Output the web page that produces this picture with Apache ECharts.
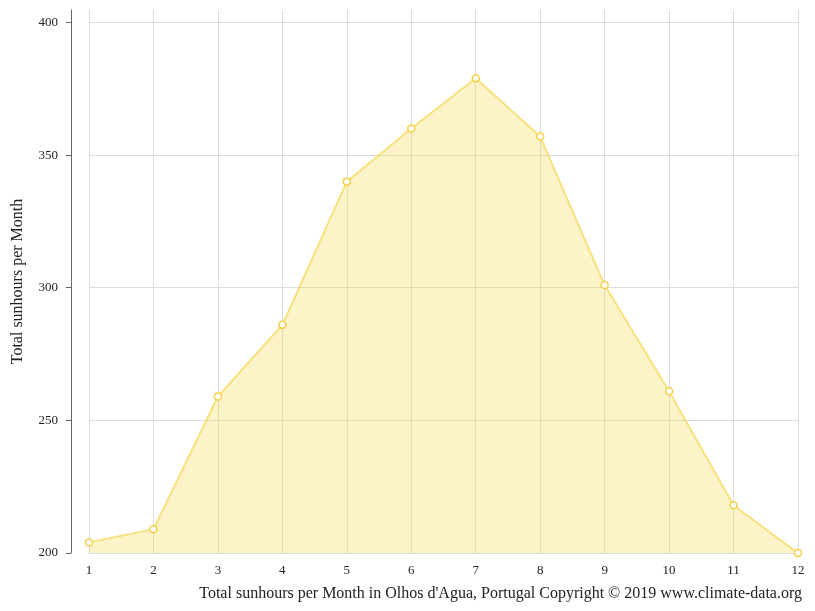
<!DOCTYPE html>
<html>
<head>
<meta charset="utf-8">
<script src="https://cdn.jsdelivr.net/npm/echarts@6/dist/echarts.min.js"></script>
<style>
html,body{margin:0;padding:0;background:#fff;}
#main{width:815px;height:611px;}
</style>
</head>
<body>
<div id="main"></div>
<script>
const months = ['1','2','3','4','5','6','7','8','9','10','11','12'];
const sunhours = [204, 209, 259, 286, 340, 360, 379, 357, 301, 261, 218, 200];
const yTicks = [200, 250, 300, 350, 400];
const yName = 'Total sunhours per Month';
const footer = "Total sunhours per Month in Olhos d'Agua, Portugal Copyright © 2019 www.climate-data.org";

const chart = echarts.init(document.getElementById('main'));
const font = '"Liberation Serif", "DejaVu Serif", serif';
chart.setOption({
  animation: false,
  textStyle: { fontFamily: font },
  title: {
    text: footer,
    right: 13,
    top: 586,
    padding: 0,
    textStyle: { fontFamily: font, fontSize: 16, fontWeight: 'normal', color: '#222' }
  },
  grid: { left: 89, right: 17, top: 10, bottom: 58, outerBoundsMode: 'none', containLabel: false },
  xAxis: {
    type: 'category',
    data: months,
    boundaryGap: false,
    axisLine: { show: false },
    axisTick: { show: false },
    axisLabel: { margin: 11, fontSize: 13, color: '#222', fontFamily: font },
    splitLine: { show: true, lineStyle: { color: '#dcdcdc', width: 1 } }
  },
  yAxis: {
    type: 'value',
    min: 200,
    max: 404.7,
    interval: 50,
    offset: 18,
    name: yName,
    nameLocation: 'middle',
    nameGap: 45,
    nameTextStyle: { fontSize: 16, color: '#222', fontFamily: font },
    axisLine: { show: true, lineStyle: { color: '#666', width: 1 } },
    axisTick: { show: true, length: 5, inside: false, customValues: yTicks, lineStyle: { color: '#666' } },
    axisLabel: { margin: 13, fontSize: 13, color: '#222', fontFamily: font, customValues: yTicks },
    splitLine: { show: true, lineStyle: { color: '#dcdcdc', width: 1 } }
  },
  series: [{
    type: 'line',
    data: sunhours,
    symbol: 'circle',
    symbolSize: 7,
    showAllSymbol: true,
    lineStyle: { color: 'rgba(245,212,70,0.65)', width: 2 },
    itemStyle: { color: '#ffffff', borderColor: '#f4cf45', borderWidth: 1.5 },
    areaStyle: { color: 'rgba(245,215,70,0.42)', origin: 'start' }
  }]
});
</script>
</body>
</html>
